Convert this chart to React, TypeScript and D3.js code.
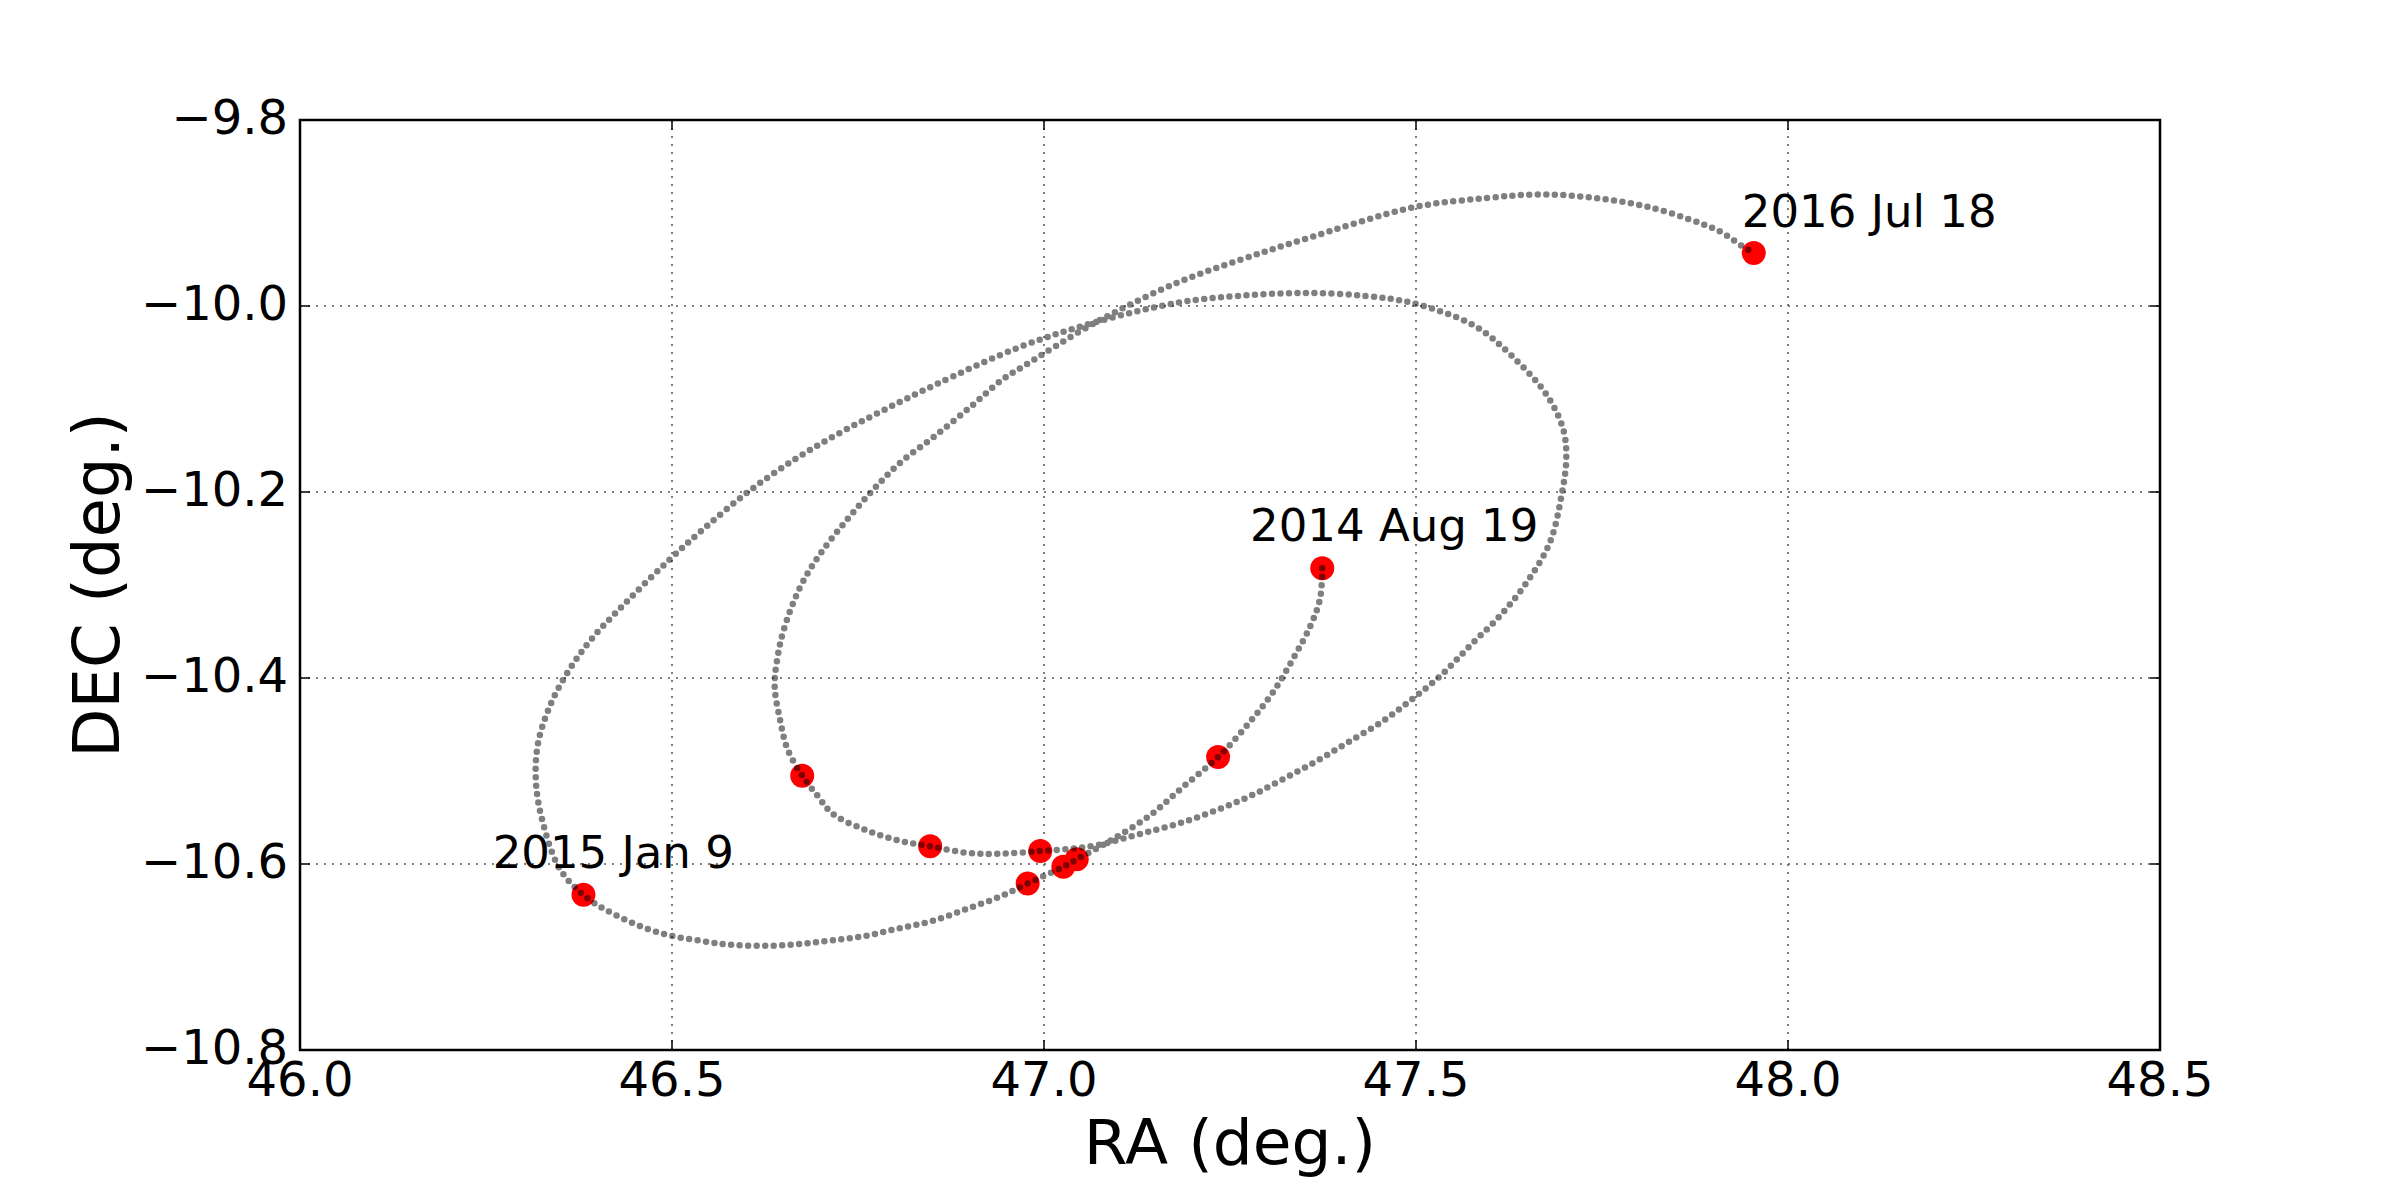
import React from "react"
import * as d3 from "d3"

const RA_TICKS = [46.0, 46.5, 47.0, 47.5, 48.0, 48.5]
const DEC_TICKS = [-9.8, -10.0, -10.2, -10.4, -10.6, -10.8]

// apparent sky track (deg), in time order from 2014 Aug 19 to 2016 Jul 18
const TRACK_RA = [
  47.374, 47.371, 47.358, 47.335, 47.308, 47.277, 47.234, 47.187, 47.142, 47.089,
  47.044, 47.026, 46.978, 46.941, 46.897, 46.851, 46.806, 46.762, 46.716, 46.672,
  46.628, 46.582, 46.542, 46.483, 46.422, 46.382, 46.349, 46.325, 46.317, 46.320,
  46.337, 46.362, 46.392, 46.439, 46.495, 46.542, 46.602, 46.663, 46.722, 46.782,
  46.853, 46.968, 47.071, 47.183, 47.263, 47.347, 47.430, 47.496, 47.578, 47.628,
  47.676, 47.698, 47.702, 47.696, 47.680, 47.649, 47.613, 47.573, 47.535, 47.496,
  47.456, 47.411, 47.367, 47.321, 47.277, 47.232, 47.187, 47.142, 47.105, 47.082,
  47.044, 46.995, 46.941, 46.897, 46.847, 46.806, 46.762, 46.716, 46.695, 46.675,
  46.655, 46.645, 46.638, 46.642, 46.651, 46.673, 46.698, 46.734, 46.770, 46.806,
  46.853, 46.902, 46.944, 46.972, 47.071, 47.179, 47.265, 47.347, 47.496, 47.594,
  47.668, 47.742, 47.815, 47.882, 47.909, 47.939, 47.954,
]
const TRACK_DEC = [
  -10.282, -10.315, -10.344, -10.379, -10.415, -10.447, -10.485, -10.517, -10.548, -10.575,
  -10.595, -10.603, -10.621, -10.635, -10.648, -10.661, -10.669, -10.677, -10.682, -10.686,
  -10.688, -10.687, -10.683, -10.674, -10.654, -10.634, -10.605, -10.551, -10.510, -10.470,
  -10.428, -10.391, -10.358, -10.318, -10.274, -10.240, -10.200, -10.166, -10.138, -10.113,
  -10.085, -10.044, -10.017, -9.996, -9.989, -9.986, -9.989, -9.997, -10.021, -10.053,
  -10.096, -10.133, -10.164, -10.202, -10.254, -10.297, -10.333, -10.365, -10.396, -10.422,
  -10.446, -10.468, -10.489, -10.509, -10.527, -10.542, -10.555, -10.565, -10.573, -10.578,
  -10.583, -10.586, -10.589, -10.588, -10.581, -10.575, -10.564, -10.546, -10.526, -10.505,
  -10.476, -10.444, -10.409, -10.377, -10.346, -10.301, -10.268, -10.231, -10.198, -10.169,
  -10.140, -10.108, -10.079, -10.065, -10.017, -9.975, -9.950, -9.929, -9.894, -9.884,
  -9.880, -9.884, -9.894, -9.911, -9.920, -9.936, -9.943,
]

// observation epochs (red)
const OBS_RA = [47.374, 47.234, 47.044, 47.026, 46.978, 46.381, 46.995, 46.847, 46.675, 47.954]
const OBS_DEC = [-10.282, -10.485, -10.595, -10.603, -10.621, -10.633, -10.586, -10.581, -10.505, -9.943]

const LABELS = ["2014 Aug 19", "2015 Jan 9", "2016 Jul 18"]
const LABEL_RA = [47.277, 46.259, 47.938]
const LABEL_DEC = [-10.253, -10.604, -9.915]

const FONT = "DejaVu Sans, sans-serif"

export default function App() {
  const width = 2400
  const height = 1200
  const margin = { top: 120, right: 240, bottom: 150, left: 300 }
  const innerW = width - margin.left - margin.right
  const innerH = height - margin.top - margin.bottom

  const x = d3.scaleLinear().domain([46, 48.5]).range([0, innerW])
  const y = d3.scaleLinear().domain([-10.8, -9.8]).range([innerH, 0])
  const fmt = d3.format(".1f")

  const track = d3
    .line<number>()
    .x(i => x(TRACK_RA[i]))
    .y(i => y(TRACK_DEC[i]))
    .curve(d3.curveCatmullRom.alpha(0.5))
  const trackPath = track(TRACK_RA.map((_, i) => i)) || ""

  const tickLen = 10

  return (
    <div style={{ position: "absolute", left: 0, top: 0 }}>
      <svg width={width} height={height} style={{ display: "block", background: "#fff" }}>
        <g transform={`translate(${margin.left},${margin.top})`}>
          {/* grid */}
          {RA_TICKS.map(t => (
            <line
              key={"gx" + t}
              x1={x(t)}
              x2={x(t)}
              y1={0}
              y2={innerH}
              stroke="#555"
              strokeWidth={1.5}
              strokeDasharray="2 6"
            />
          ))}
          {DEC_TICKS.map(t => (
            <line
              key={"gy" + t}
              x1={0}
              x2={innerW}
              y1={y(t)}
              y2={y(t)}
              stroke="#555"
              strokeWidth={1.5}
              strokeDasharray="2 6"
            />
          ))}

          {/* observation epochs */}
          {OBS_RA.map((ra, i) => (
            <circle key={"o" + i} cx={x(ra)} cy={y(OBS_DEC[i])} r={12} fill="#ff0000" />
          ))}

          {/* dotted track */}
          <path
            d={trackPath}
            fill="none"
            stroke="#000"
            strokeOpacity={0.5}
            strokeWidth={6.5}
            strokeLinecap="round"
            strokeDasharray="0 8.5"
          />

          {/* frame */}
          <rect x={0} y={0} width={innerW} height={innerH} fill="none" stroke="#000" strokeWidth={2.5} />

          {/* ticks */}
          {RA_TICKS.map(t => (
            <g key={"tx" + t}>
              <line x1={x(t)} x2={x(t)} y1={innerH} y2={innerH - tickLen} stroke="#000" strokeWidth={1.5} />
              <line x1={x(t)} x2={x(t)} y1={0} y2={tickLen} stroke="#000" strokeWidth={1.5} />
              <text
                x={x(t)}
                y={innerH + 46}
                fontSize={48}
                fontFamily={FONT}
                textAnchor="middle"
                fill="#000"
              >
                {fmt(t)}
              </text>
            </g>
          ))}
          {DEC_TICKS.map(t => (
            <g key={"ty" + t}>
              <line x1={0} x2={tickLen} y1={y(t)} y2={y(t)} stroke="#000" strokeWidth={1.5} />
              <line x1={innerW} x2={innerW - tickLen} y1={y(t)} y2={y(t)} stroke="#000" strokeWidth={1.5} />
              <text
                x={-12}
                y={y(t) + 14}
                fontSize={48}
                fontFamily={FONT}
                textAnchor="end"
                fill="#000"
              >
                {fmt(t)}
              </text>
            </g>
          ))}

          {/* axis labels */}
          <text
            x={innerW / 2}
            y={innerH + 114}
            fontSize={63}
            fontFamily={FONT}
            textAnchor="middle"
            fill="#000"
          >
            RA (deg.)
          </text>
          <text
            transform={`translate(${119 - margin.left},${innerH / 2}) rotate(-90)`}
            fontSize={64}
            fontFamily={FONT}
            textAnchor="middle"
            fill="#000"
          >
            DEC (deg.)
          </text>

          {/* date annotations */}
          {LABELS.map((s, i) => (
            <text
              key={s}
              x={x(LABEL_RA[i])}
              y={y(LABEL_DEC[i])}
              fontSize={45}
              fontFamily={FONT}
              fill="#000"
            >
              {s}
            </text>
          ))}
        </g>
      </svg>
    </div>
  )
}
